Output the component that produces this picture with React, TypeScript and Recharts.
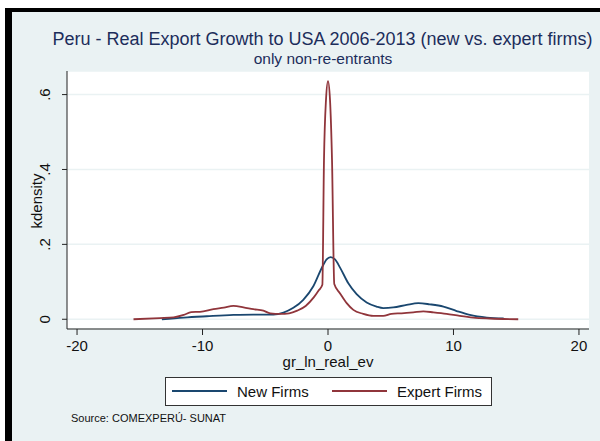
import React from 'react';
import { LineChart, Line, XAxis, YAxis, CartesianGrid } from 'recharts';

// kdensity estimates
const newFirmsX = [-13.24, -11.5, -9.66, -7.54, -5.95, -4.35, -3.55, -2.76, -1.97, -1.17, -0.5, -0.11, 0.21, 0.56, 0.96, 1.62, 2.28, 3.08, 3.87, 4.4, 5.2, 6.27, 7.2, 8.1, 9.2, 10.25, 11.3, 12.66, 14.0];
const newFirmsY = [0.0, 0.0045, 0.008, 0.0115, 0.0125, 0.0125, 0.018, 0.0305, 0.052, 0.088, 0.137, 0.16, 0.166, 0.16, 0.138, 0.096, 0.067, 0.045, 0.034, 0.03, 0.0315, 0.0385, 0.043, 0.04, 0.034, 0.022, 0.0115, 0.0045, 0.002];

const expertFirmsX = [-15.5, -13.4, -12.3, -11.5, -10.9, -10.2, -9.13, -8.3, -7.54, -6.74, -5.95, -5.15, -4.6, -3.8, -3.1, -2.45, -1.78, -1.12, -0.72, -0.45, -0.32, -0.16, 0.0, 0.16, 0.32, 0.5, 0.96, 1.49, 2.02, 2.8, 3.6, 4.4, 5.06, 5.86, 6.8, 7.6, 8.4, 9.45, 10.5, 11.57, 12.9, 15.16];
const expertFirmsY = [0.0, 0.003, 0.005, 0.0115, 0.019, 0.02, 0.027, 0.031, 0.0355, 0.032, 0.027, 0.023, 0.016, 0.0145, 0.016, 0.023, 0.0355, 0.059, 0.078, 0.092, 0.425, 0.586, 0.636, 0.586, 0.425, 0.094, 0.069, 0.043, 0.025, 0.0145, 0.009, 0.009, 0.0145, 0.016, 0.0185, 0.021, 0.0185, 0.0145, 0.009, 0.0045, 0.002, 0.0];

const xTicks = [-20, -10, 0, 10, 20];
const yTicks = [0, 0.2, 0.4, 0.6];
const yTickLabels = ['0', '.2', '.4', '.6'];

const FONT = '"Liberation Sans", Arial, sans-serif';
const NAVY = '#1a476f';
const MAROON = '#90353b';
const TITLE_COLOR = '#1c2d5b';

const newFirmsData = newFirmsX.map((x, i) => ({ x, y: newFirmsY[i] }));
const expertFirmsData = expertFirmsX.map((x, i) => ({ x, y: expertFirmsY[i] }));

const YTick = (props: any) => {
  const { y, payload } = props;
  const idx = yTicks.indexOf(payload.value);
  const bx = 50;
  return (
    <text
      x={bx}
      y={y}
      transform={`rotate(-90 ${bx} ${y})`}
      textAnchor="middle"
      fontSize={15}
      fontFamily={FONT}
      fill="#111"
    >
      {idx >= 0 ? yTickLabels[idx] : payload.value}
    </text>
  );
};

export default function App() {
  return (
    <div style={{ position: 'absolute', left: 0, top: 0, width: 600, height: 441, background: '#fff', overflow: 'hidden' }}>
      {/* graph region with the black frame */}
      <div
        style={{
          position: 'absolute',
          left: 5,
          top: 8,
          width: 595 - 7,
          height: 441 - 8 - 4,
          background: '#eaf2f3',
          borderTop: '4px solid #000',
          borderLeft: '7px solid #000',
        }}
      />
      <div style={{ position: 'absolute', left: 0, top: 0 }}>
        <LineChart width={600} height={441} margin={{ top: 71, right: 11, left: 0, bottom: 82 }}>
          <CartesianGrid vertical={false} stroke="#eaf2f3" strokeWidth={1.5} fill="#ffffff" />
          <XAxis
            dataKey="x"
            type="number"
            domain={[-20.8, 20.8]}
            ticks={xTicks}
            allowDataOverflow
            height={30}
            tickSize={6}
            tickMargin={5}
            stroke="#222"
            tick={{ fill: '#111', fontSize: 15, fontFamily: FONT }}
          />
          <YAxis
            type="number"
            domain={[-0.026, 0.663]}
            ticks={yTicks}
            allowDataOverflow
            width={67}
            tickSize={5}
            stroke="#222"
            tick={<YTick />}
          />
          <Line data={newFirmsData} dataKey="y" type="monotone" stroke={NAVY} strokeWidth={1.8} dot={false} isAnimationActive={false} />
          <Line data={expertFirmsData} dataKey="y" type="monotone" stroke={MAROON} strokeWidth={1.8} dot={false} isAnimationActive={false} />
        </LineChart>
      </div>
      {/* titles, axis titles, legend and note */}
      <svg width={600} height={441} style={{ position: 'absolute', left: 0, top: 0, pointerEvents: 'none' }} fontFamily={FONT}>
        <text x={322.5} y={45} textAnchor="middle" fontSize={18} fill={TITLE_COLOR}>
          Peru - Real Export Growth to USA 2006-2013 (new vs. expert firms)
        </text>
        <text x={323} y={64} textAnchor="middle" fontSize={15.5} fill={TITLE_COLOR}>
          only non-re-entrants
        </text>
        <text x={42} y={201} transform="rotate(-90 42 201)" textAnchor="middle" fontSize={15} fill="#111">
          kdensity
        </text>
        <text x={328} y={367} textAnchor="middle" fontSize={15} fill="#111">
          gr_ln_real_ev
        </text>
        <rect x={165.5} y={377.5} width={326} height={28} fill="#fff" stroke="#333" strokeWidth={1} />
        <line x1={172} y1={391} x2={227} y2={391} stroke={NAVY} strokeWidth={1.8} />
        <text x={237} y={397} fontSize={15} fill="#111">New Firms</text>
        <line x1={332} y1={391} x2={387} y2={391} stroke={MAROON} strokeWidth={1.8} />
        <text x={397} y={397} fontSize={15} fill="#111">Expert Firms</text>
        <text x={71} y={422} fontSize={11} fill="#111">Source: COMEXPERÚ- SUNAT</text>
      </svg>
    </div>
  );
}
